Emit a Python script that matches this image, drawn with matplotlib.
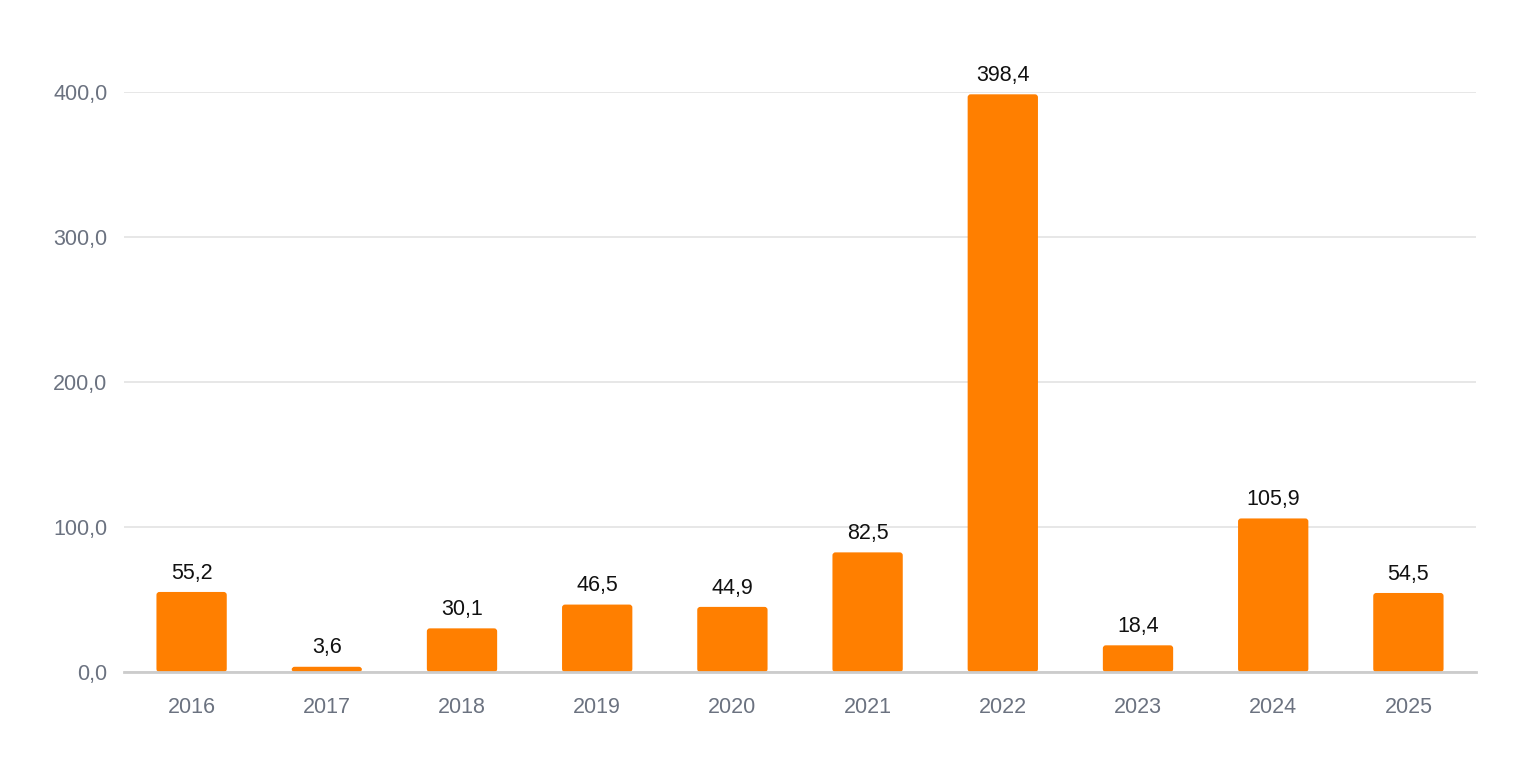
import matplotlib
matplotlib.use('Agg')
import matplotlib.pyplot as plt
from matplotlib.patches import FancyBboxPatch

plt.rcParams['font.family'] = ['Liberation Sans', 'DejaVu Sans']

years = ['2016', '2017', '2018', '2019', '2020', '2021', '2022', '2023', '2024', '2025']
values = [55.2, 3.6, 30.1, 46.5, 44.9, 82.5, 398.4, 18.4, 105.9, 54.5]
yticks = [0, 100, 200, 300, 400]

fig = plt.figure(figsize=(15.2, 7.6), dpi=100)
ax = fig.add_axes([124 / 1520, 88 / 760, 1352 / 1520, 580 / 760])

x = list(range(len(years)))
w = 0.52
bars = ax.bar(x, values, width=w, color='#ff7f00', zorder=3)

# скругляем углы
ax.set_xlim(-0.5, len(years) - 0.5)
ax.set_ylim(0, 400)
px_x = (len(years)) / 1352
px_y = 400 / 580
for b in bars:
    b.set_visible(False)
    p = FancyBboxPatch((b.get_x(), 0), b.get_width(), b.get_height(),
                       boxstyle='round,pad=0,rounding_size=%f' % (3 * px_x),
                       mutation_aspect=px_y / px_x,
                       fc='#ff7f00', ec='none', zorder=3)
    ax.add_patch(p)

for xi, v in zip(x, values):
    ax.annotate(f'{v:.1f}'.replace('.', ','), (xi, v), xytext=(0, 6),
                textcoords='offset points', ha='center', va='bottom',
                fontsize=15.5, color='#111111', annotation_clip=False)

ax.set_xticks(x)
ax.set_xticklabels(years)
ax.set_yticks(yticks)
ax.set_yticklabels([f'{t:.1f}'.replace('.', ',') for t in yticks])
ax.tick_params(axis='both', length=0, labelsize=15.5, labelcolor='#6b7280')
ax.tick_params(axis='x', pad=18)
ax.tick_params(axis='y', pad=12)

ax.grid(axis='y', color='#e3e3e3', linewidth=1.2, zorder=0)
for s in ['top', 'right', 'left']:
    ax.spines[s].set_visible(False)
ax.spines['bottom'].set_color('#cccccc')
ax.spines['bottom'].set_linewidth(2)
ax.spines['bottom'].set_zorder(4)

fig.savefig('out.png', dpi=100)
